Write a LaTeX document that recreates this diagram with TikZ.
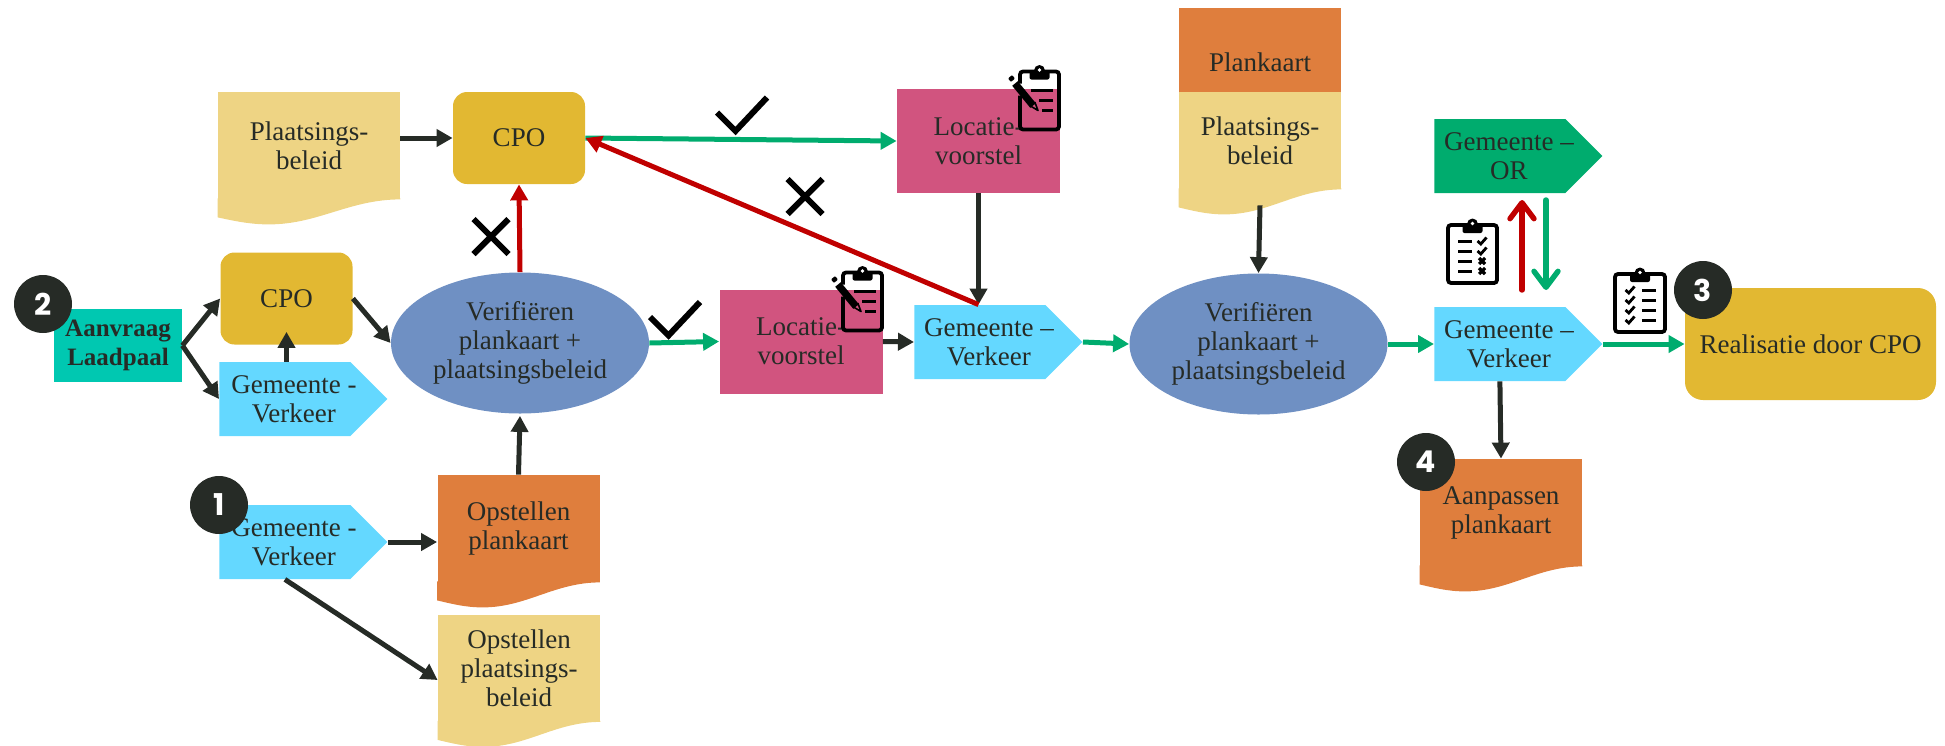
\documentclass[tikz,border=0pt]{standalone}
\usepackage{fontspec}
\setmainfont{Liberation Serif}
\newfontfamily\digitfont{Poppins}
\usetikzlibrary{calc,arrows.meta,shapes.symbols,shapes.geometric}
\definecolor{inktext}{HTML}{262B26}
\definecolor{cpogold}{HTML}{E2B832}
\definecolor{docyellow}{HTML}{EED484}
\definecolor{docorange}{HTML}{DF7E3D}
\definecolor{verifyblue}{HTML}{6F90C3}
\definecolor{verkeerblue}{HTML}{64D8FF}
\definecolor{voorstelpink}{HTML}{D1547F}
\definecolor{okgreen}{HTML}{00AC6E}
\definecolor{startteal}{HTML}{00C8B1}
\definecolor{nogored}{HTML}{C00000}
\tikzset{
  every node/.style={font=\fontsize{13.5}{14.5}\selectfont,text=inktext,align=center,inner sep=0pt},
  cpobox/.style={rectangle,rounded corners=7pt,fill=cpogold,minimum width=66pt,minimum height=46pt},
  docbox/.style={rectangle,minimum width=81pt,minimum height=53.5pt},
  verkeer/.style={signal,signal to=east,signal pointer angle=90,anchor=west,fill=#1,minimum width=84pt,minimum height=37pt},
  verkeer/.default=verkeerblue,
  verify/.style={ellipse,fill=verifyblue,minimum width=129pt,minimum height=70.5pt},
  voorstel/.style={rectangle,fill=voorstelpink,minimum width=81.5pt,minimum height=52pt},
  stepnum/.style={circle,fill=inktext,minimum size=29pt,text=white,font=\digitfont\bfseries\fontsize{15}{15}\selectfont},
  flow/.style={line width=2.5pt,color=#1,-{Triangle[length=8pt,width=8.5pt]}},
  flow/.default=inktext,
  barb/.style={line width=2.7pt,color=#1,line cap=round,-{Straight Barb[length=8pt,width=12pt,line cap=round,line join=round]}},
  board/.pic={
    \draw[line width=1.9pt,rounded corners=1.5pt] (0,0) rectangle (#1,58);
    \fill[rounded corners=1pt] ({#1/2-10},-1) rectangle ({#1/2+10},8);
    \fill ({#1/2},-1) circle (5.5);
    \fill[white] ({#1/2},-1.5) circle (1.9);
  },
  board/.default=49,
  tickmark/.pic={\draw[line width=3pt,miter limit=4] (0,16) -- (18.5,34.5) -- (50,1);},
  crossmark/.pic={\draw[line width=3pt] (0,0) -- (35,35) (0,35) -- (35,0);},
  penlist/.pic={
    \draw[line width=1.9pt,rounded corners=1.5pt] (0,12) -- (0,0) -- (39,0) -- (39,58) -- (0,58) -- (0,24);
    \fill[rounded corners=1pt] (9.5,-1) rectangle (29.5,8);
    \fill (19.5,-1) circle (5.5);
    \fill[white] (19.5,-1.5) circle (1.9);
    \draw[line width=1.5pt] (11,19) -- (33,19) (19,29) -- (33,29) (22,39) -- (33,39);
    \fill[rounded corners=.5pt] (-12,7) -- (-8,3.5) -- (-5,7) -- (-9,10.5) -- cycle;
    \draw[line width=3.6pt] (-5,12) -- (13,34);
    \draw[line width=.8pt,line join=round] (10.5,34.5) -- (15,31) -- (18,39) -- cycle;
  },
  smalltick/.pic={\draw[line width=1.4pt] (-4.5,0) -- (-1.2,3) -- (4.5,-3.5);},
  smallcross/.pic={\draw[line width=1.6pt] (-3,-3) -- (3,3) (-3,3) -- (3,-3);},
  shifted/.style={label={[xshift=4.5pt]center:#1}},
}
% wavy lower edge hanging under a document node
\newcommand{\wavefoot}[2]{\fill[#2] (#1.south east)
  .. controls ($(#1.south east)!.28!(#1.south west)$) and ($(#1.south east)!.45!(#1.south west)+(0,25)$) .. ($(#1.south east)!.72!(#1.south west)+(0,25)$)
  .. controls ($(#1.south east)!.83!(#1.south west)+(0,25)$) and ($(#1.south east)!.92!(#1.south west)+(0,21)$) .. ($(#1.south west)+(0,18)$)
  -- ($(#1.south west)+(0,-1)$) -- ($(#1.south east)+(0,-1)$) -- cycle;}
\begin{document}
\begin{tikzpicture}[x=.5pt,y=-.5pt]
\useasboundingbox (0,0) rectangle (1945,745);

% left part
\node[docbox,fill=docyellow,minimum width=91pt] (plaatsA) at (309,145.5) {Plaatsings-\\beleid};
\wavefoot{plaatsA}{docyellow}
\node[cpobox] (cpoTop) at (519,138) {CPO};
\node[rectangle,fill=startteal,minimum width=64pt,minimum height=36.5pt,font=\fontsize{12.5}{14.5}\selectfont\bfseries] (aanvraag) at (118,345.5) {Aanvraag\\Laadpaal};
\node[cpobox] (cpoLeft) at (286.5,298.5) {CPO};
\node[verkeer,shifted={Gemeente -\\Verkeer}] (gemLeft) at (219,399) {};
\node[verify] (verifyA) at (520,343) {Verifi\"eren\\plankaart +\\plaatsingsbeleid};
\node[verkeer,shifted={Gemeente -\\Verkeer}] (gemStart) at (219,542) {};
\node[docbox,fill=docorange] (planA) at (518.5,528.5) {Opstellen\\plankaart};
\wavefoot{planA}{docorange}
\node[docbox,fill=docyellow] (plaatsStart) at (519,668) {Opstellen\\plaatsings-\\beleid};
\wavefoot{plaatsStart}{docyellow}

% middle part
\node[voorstel] (voorstelTop) at (978.5,141) {Locatie-\\voorstel};
\node[voorstel] (voorstelLow) at (801,341.5) {Locatie-\\voorstel};
\node[verkeer,shifted={Gemeente --\\Verkeer}] (gemMid) at (914,342) {};
\node[docbox,fill=docorange,minimum height=42.5pt,label={[yshift=-6pt]center:Plankaart}] (planB) at (1260,50) {};
\node[docbox,fill=docyellow,minimum height=48.5pt] (plaatsB) at (1260,140.5) {Plaatsings-\\beleid};
\wavefoot{plaatsB}{docyellow}
\node[verify] (verifyB) at (1258.5,344) {Verifi\"eren\\plankaart +\\plaatsingsbeleid};

% right part
\node[verkeer=okgreen,shifted={Gemeente --\\OR}] (gemOR) at (1434,156) {};
\node[verkeer,shifted={Gemeente --\\Verkeer}] (gemRight) at (1434,344) {};
\node[rectangle,rounded corners=9pt,fill=cpogold,minimum width=125.5pt,minimum height=56pt] (realisatie) at (1810.5,344) {Realisatie door CPO};
\node[docbox,fill=docorange] (planC) at (1501,512.5) {Aanpassen\\plankaart};
\wavefoot{planC}{docorange}

\coordinate (redFoot) at (1522,290);
\coordinate (redHead) at (1522,200);
\coordinate (okFoot) at (1546,200);
\coordinate (okHead) at (1546,290);

\path[flow]
  (aanvraag.east) edge (cpoLeft.west)
  (aanvraag.east) edge (gemLeft.west)
  (cpoLeft.east) edge (verifyA.west)
  (cpoLeft.south |- gemLeft.north) edge ($(cpoLeft.south)+(0,-13)$)
  (gemStart.east) edge (gemStart.east -| planA.west)
  (gemStart.south) edge ($(plaatsStart.west)+(0,12)$)
  (planA.north) edge ($(verifyA.south)+(0,2)$)
  (cpoTop.west -| plaatsA.east) edge (cpoTop.west)
  (voorstelTop.south) edge (voorstelTop.south |- gemMid.north)
  (voorstelLow.east) edge (gemMid.west)
  ($(plaatsB.south)+(0,16)$) edge (verifyB.north)
  (gemRight.south) edge (planC.north);
\path[flow=okgreen]
  (cpoTop.east) edge (voorstelTop.west)
  (verifyA.east) edge (voorstelLow.west)
  (gemMid.east) edge (verifyB.west)
  (verifyB.east) edge (gemRight.west)
  (gemRight.east) edge (realisatie.west);
\path[flow=nogored]
  (verifyA.north) edge (cpoTop.south)
  (voorstelTop.south |- gemMid.north) edge (cpoTop.east);
\path[barb=nogored] (redFoot) edge (redHead);
\path[barb=okgreen] (okFoot) edge (okHead);

% marks and clipboards
\pic at (650,301) {tickmark};
\pic at (717,96.5) {tickmark};
\pic at (473.5,219) {crossmark};
\pic at (787.5,179) {crossmark};
\pic at (1020,71.5) {penlist};
\pic at (843,272.5) {penlist};
\pic at (1448,225) {board=49};
\foreach \y in {241,251,261,271} \draw[line width=1.5pt] (1458,\y) -- (1472,\y);
\pic at (1482,241) {smalltick};
\pic at (1482,251) {smalltick};
\pic at (1482,261) {smallcross};
\pic at (1482,271) {smallcross};
\pic at (1615,274) {board=50};
\foreach \y in {290,300,310,320} {
  \draw[line width=1.5pt] (1642,\y) -- (1656,\y);
  \pic at (1630,\y) {smalltick};
}

% step numbers
\node[stepnum] (stepTwo) at (43,304) {2};
\node[stepnum] (stepOne) at (219,505) {1};
\node[stepnum] (stepThree) at (1703,290) {3};
\node[stepnum] (stepFour) at (1426,462) {4};
\end{tikzpicture}
\end{document}
